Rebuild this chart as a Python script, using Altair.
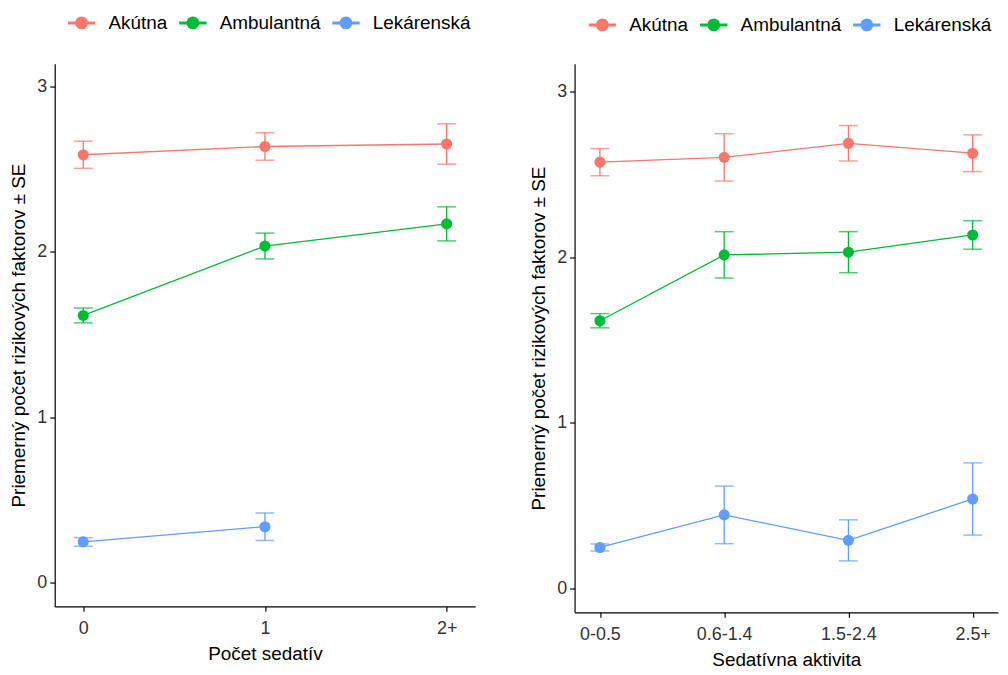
import altair as alt
import pandas as pd

groups = ["Akútna", "Ambulantná", "Lekárenská"]
colors = ["#F8766D", "#00BA38", "#619CFF"]

# Left panel: Počet sedatív
left_x = ["0", "1", "2+"]
left_akutna_mean = [2.588, 2.638, 2.653]
left_akutna_se = [0.082, 0.083, 0.122]
left_ambul_mean = [1.616, 2.036, 2.170]
left_ambul_se = [0.045, 0.078, 0.103]
left_lek_mean = [0.246, 0.338, None]
left_lek_se = [0.026, 0.083, None]

# Right panel: Sedatívna aktivita
right_x = ["0-0.5", "0.6-1.4", "1.5-2.4", "2.5+"]
right_akutna_mean = [2.574, 2.603, 2.688, 2.628]
right_akutna_se = [0.082, 0.143, 0.107, 0.111]
right_ambul_mean = [1.616, 2.014, 2.030, 2.134]
right_ambul_se = [0.043, 0.140, 0.124, 0.086]
right_lek_mean = [0.246, 0.443, 0.289, 0.539]
right_lek_se = [0.021, 0.174, 0.124, 0.218]

y_title = "Priemerný počet rizikových faktorov ± SE"
FONT = "Liberation Sans"
LEG_PATH = ("M-1,-0.06H1V0.06H-1Z "
            "M0.44,0A0.44,0.44 0 1,1 -0.44,0A0.44,0.44 0 1,1 0.44,0Z")


def make_df(xs, means, ses):
    rows = []
    for g, m_list, s_list in zip(groups, means, ses):
        for x, m, s in zip(xs, m_list, s_list):
            if m is None:
                continue
            rows.append({"group": g, "x": x, "mean": m, "lo": m - s, "hi": m + s})
    return pd.DataFrame(rows)


def panel(df, xs, pad, w, h, ydom, xtitle, lx, ly):
    base = alt.Chart(df)
    xenc = alt.X("x:N", sort=xs, scale=alt.Scale(type="point", padding=pad),
                 axis=alt.Axis(title=xtitle, labelAngle=0, labelPadding=8,
                               titlePadding=7))
    yscale = alt.Scale(domain=ydom, nice=False, zero=False)
    legend = alt.Legend(
        title=None, orient="none", direction="horizontal",
        legendX=lx, legendY=ly, symbolType=LEG_PATH,
        symbolSize=676, symbolOpacity=1, labelOffset=13, columnPadding=9,
        labelFontSize=19, labelFont=FONT, labelColor="#000000", padding=0)
    cenc = alt.Color("group:N", scale=alt.Scale(domain=groups, range=colors),
                     sort=groups, legend=legend)
    line = base.mark_line(strokeWidth=1.3).encode(
        x=xenc,
        y=alt.Y("mean:Q", scale=yscale,
                axis=alt.Axis(title=y_title, values=[0, 1, 2, 3], format="d")),
        color=cenc,
    )
    rule = base.mark_rule(strokeWidth=1.3).encode(
        x=xenc, y=alt.Y("lo:Q", scale=yscale), y2="hi:Q", color=cenc,
    )
    cap_lo = base.mark_tick(size=19, thickness=1.5).encode(
        x=xenc, y=alt.Y("lo:Q", scale=yscale), color=cenc,
    )
    cap_hi = base.mark_tick(size=19, thickness=1.5).encode(
        x=xenc, y=alt.Y("hi:Q", scale=yscale), color=cenc,
    )
    pts = base.mark_circle(size=125, opacity=1).encode(
        x=xenc, y=alt.Y("mean:Q", scale=yscale), color=cenc,
    )
    return alt.layer(line, rule, cap_lo, cap_hi, pts).properties(width=w, height=h)


df_left = make_df(left_x, [left_akutna_mean, left_ambul_mean, left_lek_mean],
                  [left_akutna_se, left_ambul_se, left_lek_se])
df_right = make_df(right_x, [right_akutna_mean, right_ambul_mean, right_lek_mean],
                   [right_akutna_se, right_ambul_se, right_lek_se])

left = panel(df_left, left_x, 0.157, 423, 546, [-0.144, 3.139], "Počet sedatív", 13, -55)
right = panel(df_right, right_x, 0.204, 426, 552, [-0.146, 3.169], "Sedatívna aktivita", 14, -53)

chart = alt.hconcat(left, right, spacing=54).resolve_scale(
    color="independent", x="independent", y="independent"
).properties(
    padding={"left": 1, "top": -1, "right": 2, "bottom": 2},
    background="white",
).configure_view(stroke=None).configure_axis(
    grid=False, domainColor="#000000", domainWidth=1.2, tickColor="#000000",
    tickSize=5, tickWidth=1.2, labelFont=FONT, labelFontSize=18, labelColor="#333333",
    labelPadding=3, titleFont=FONT, titleFontSize=19, titleFontWeight="normal",
    titleColor="#000000", titlePadding=8,
)

chart.save("out.html", embed_options={"renderer": "svg", "actions": False})
